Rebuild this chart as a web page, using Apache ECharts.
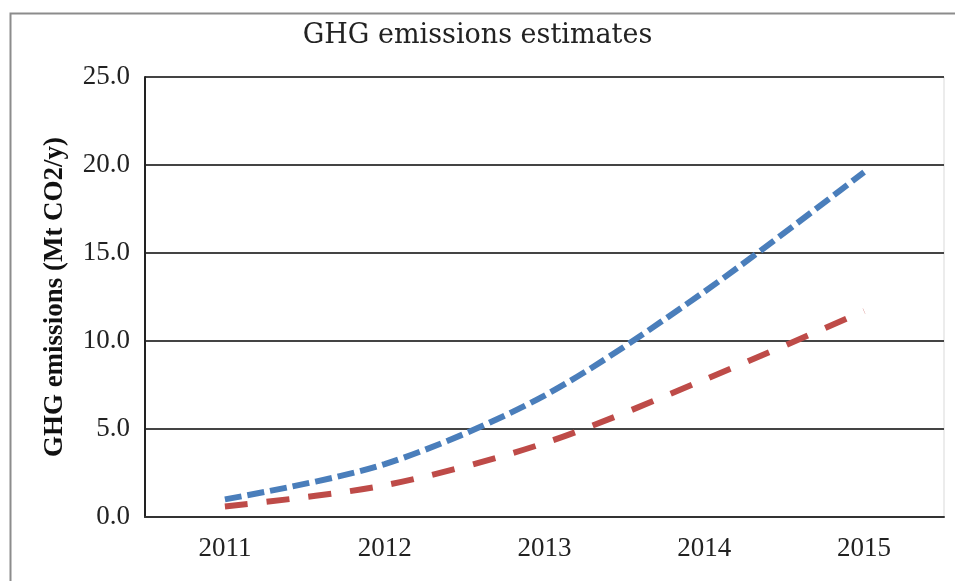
<!DOCTYPE html>
<html>
<head>
<meta charset="utf-8">
<script src="https://cdn.jsdelivr.net/npm/echarts@6/dist/echarts.min.js"></script>
<style>
html,body{margin:0;padding:0;background:#fff;}
#chart{width:955px;height:581px;}
</style>
</head>
<body>
<div id="chart"></div>
<script>
// Estimated GHG emissions by year (Mt CO2/y)
const years = ['2011', '2012', '2013', '2014', '2015'];
const highEstimate = [1.0, 3.0, 6.9, 12.8, 19.6];
const lowEstimate = [0.6, 1.8, 4.2, 7.8, 11.7];
const yTicks = [0, 5, 10, 15, 20, 25];

const serif = '"Liberation Serif", "DejaVu Serif", serif';
const titleSerif = '"DejaVu Serif", "Liberation Serif", serif';
const chart = echarts.init(document.getElementById('chart'));

chart.setOption({
  animation: false,
  backgroundColor: '#fff',
  graphic: [{
    type: 'rect',
    shape: { x: 10.5, y: 13.5, width: 1000, height: 1000 },
    style: { fill: 'none', stroke: '#8c8c8c', lineWidth: 2 },
    silent: true
  }, {
    type: 'line',
    shape: { x1: 944, y1: 77, x2: 944, y2: 517 },
    style: { stroke: '#d9d9d9', lineWidth: 1 },
    silent: true
  }],
  title: {
    text: 'GHG emissions estimates',
    left: 'center',
    top: 17,
    textStyle: { fontFamily: titleSerif, fontWeight: 'normal', fontSize: 27, color: '#222' }
  },
  grid: { left: 145, right: 11, top: 77, bottom: 64, containLabel: false },
  xAxis: {
    type: 'category',
    data: years,
    boundaryGap: true,
    axisLine: { lineStyle: { color: '#333', width: 2 } },
    axisTick: { show: false },
    axisLabel: { fontFamily: serif, fontSize: 27, color: '#222', margin: 18 }
  },
  yAxis: {
    type: 'value',
    min: yTicks[0],
    max: yTicks[yTicks.length - 1],
    interval: yTicks[1] - yTicks[0],
    name: 'GHG emissions (Mt CO2/y)',
    nameLocation: 'middle',
    nameGap: 76,
    nameTextStyle: { fontFamily: serif, fontWeight: 'bold', fontSize: 27, color: '#111' },
    axisLine: { show: true, lineStyle: { color: '#222', width: 2 } },
    axisTick: { show: false },
    axisLabel: {
      fontFamily: serif, fontSize: 27, color: '#222', margin: 15,
      formatter: v => v.toFixed(1)
    },
    splitLine: { lineStyle: { color: '#444', width: 2 } }
  },
  series: [{
    name: 'High estimate',
    type: 'line',
    data: highEstimate,
    smooth: 0.3,
    symbol: 'none',
    lineStyle: { color: '#4a7ebb', width: 6, type: [17, 6], cap: 'butt' }
  }, {
    name: 'Low estimate',
    type: 'line',
    data: lowEstimate,
    smooth: 0.3,
    symbol: 'none',
    lineStyle: { color: '#be4b48', width: 6, type: [23, 19], cap: 'butt' }
  }]
});
</script>
</body>
</html>
